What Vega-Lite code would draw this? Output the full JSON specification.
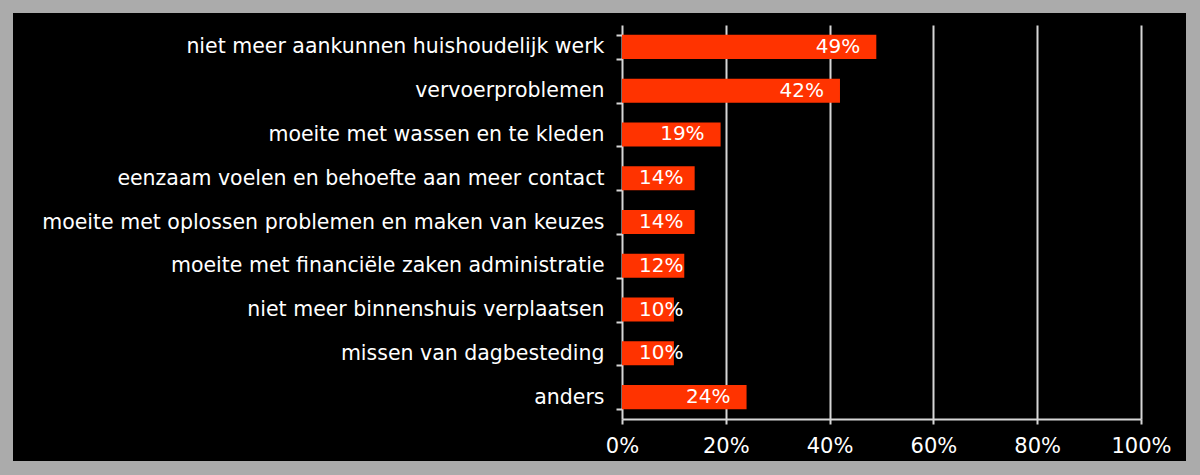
{
  "$schema": "https://vega.github.io/schema/vega-lite/v6.json",
  "width": 1173,
  "height": 448,
  "autosize": {"type": "none"},
  "padding": {"left": 13, "top": 13, "right": 14, "bottom": 14},
  "background": "#ababab",
  "config": {
    "view": {"fill": "#000000", "stroke": null},
    "font": "DejaVu Sans",
    "axis": {
      "labelFont": "DejaVu Sans",
      "labelColor": "#ffffff",
      "domainColor": "#d6d6d6",
      "domainWidth": 2,
      "tickColor": "#d6d6d6",
      "tickWidth": 2,
      "gridColor": "#d6d6d6",
      "gridWidth": 2,
      "gridOpacity": 1,
      "title": null
    }
  },
  "resolve": {"axis": {"x": "independent"}},
  "data": {
    "values": [
      {"cat": "niet meer aankunnen huishoudelijk werk", "value": 0.49},
      {"cat": "vervoerproblemen", "value": 0.42},
      {"cat": "moeite met wassen en te kleden", "value": 0.19},
      {"cat": "eenzaam voelen en behoefte aan meer contact", "value": 0.14},
      {"cat": "moeite met oplossen problemen en maken van keuzes", "value": 0.14},
      {"cat": "moeite met financiële zaken administratie", "value": 0.12},
      {"cat": "niet meer binnenshuis verplaatsen", "value": 0.10},
      {"cat": "missen van dagbesteding", "value": 0.10},
      {"cat": "anders", "value": 0.24}
    ]
  },
  "encoding": {
    "y": {
      "field": "cat",
      "type": "nominal",
      "sort": null,
      "scale": {"range": [12, 406], "paddingInner": 0.45, "paddingOuter": 0.225},
      "axis": {
        "orient": "left",
        "offset": -609,
        "tickBand": "extent",
        "tickSize": 6,
        "labelPadding": 12,
        "labelFontSize": 20.5,
        "labelLimit": 700,
        "grid": false
      }
    }
  },
  "layer": [
    {
      "mark": {"type": "bar", "color": "#ff3300"},
      "encoding": {
        "x": {
          "field": "value",
          "type": "quantitative",
          "scale": {"domain": [0, 1], "range": [609, 1128], "nice": false},
          "axis": {
            "orient": "bottom",
            "offset": -42,
            "values": [0, 0.2, 0.4, 0.6, 0.8, 1],
            "format": ".0%",
            "tickSize": 5,
            "labelPadding": 11,
            "labelFontSize": 21,
            "labelFlush": false,
            "labelAlign": "center",
            "grid": false
          }
        }
      }
    },
    {
      "transform": [{"filter": "datum.value >= 0.15"}],
      "mark": {"type": "text", "align": "right", "baseline": "middle", "dx": -16, "color": "#ffffff", "fontSize": 20},
      "encoding": {
        "x": {
          "field": "value",
          "type": "quantitative",
          "axis": {
            "orient": "top",
            "values": [0.2, 0.4, 0.6, 0.8, 1],
            "grid": true,
            "labels": false,
            "ticks": false,
            "domain": false
          }
        },
        "text": {"field": "value", "type": "quantitative", "format": ".0%"}
      }
    },
    {
      "transform": [{"filter": "datum.value < 0.15"}],
      "mark": {"type": "text", "align": "left", "baseline": "middle", "dx": 17, "color": "#ffffff", "fontSize": 20},
      "encoding": {
        "x": {"datum": 0, "type": "quantitative", "axis": null},
        "text": {"field": "value", "type": "quantitative", "format": ".0%"}
      }
    }
  ]
}
